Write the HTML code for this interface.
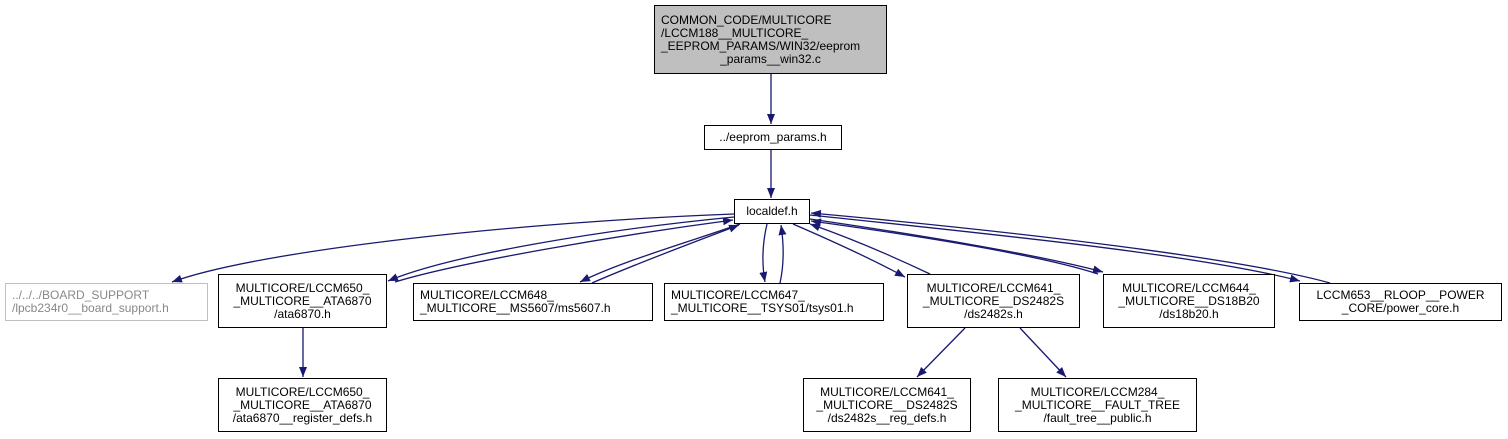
<!DOCTYPE html>
<html><head><meta charset="utf-8"><style>
html,body{margin:0;padding:0;background:#fff;width:1508px;height:439px;overflow:hidden}
.n{position:absolute;box-sizing:border-box;border:1px solid #000;background:#fff;font:12px/13px "Liberation Sans",Arial,sans-serif;color:#000;display:flex;flex-direction:column;justify-content:center;padding:0 6px;white-space:nowrap}
.l{text-align:left}.c{text-align:center}
svg{position:absolute;left:0;top:0}
</style></head><body>
<svg width="1508" height="439">
<defs><marker id="a" viewBox="0 0 10 10" refX="10" refY="5" markerWidth="10" markerHeight="10" markerUnits="userSpaceOnUse" orient="auto"><path d="M0,1 L10,5 L0,9 z" fill="#191970"/></marker></defs>
<g fill="none" stroke="#191970" stroke-width="1.3" marker-end="url(#a)">
<path d="M771,74 L771,124"/>
<path d="M771,150 L771,198"/>
<path d="M734,214 C520,222 260,250 172,282"/>
<path d="M734,217 C600,230 450,255 388,281"/>
<path d="M395,282 C460,262 620,235 733,220"/>
<path d="M740,224 C680,245 620,262 580,282"/>
<path d="M592,283 C640,262 700,240 739,225"/>
<path d="M767,224 C762,245 762,265 765,282"/>
<path d="M780,283 C784,265 784,245 781,225"/>
<path d="M793,224 C830,240 870,258 905,277"/>
<path d="M930,274 C890,255 850,238 810,224"/>
<path d="M810,219 C920,235 1040,255 1103,272"/>
<path d="M1098,274 C1040,255 920,236 811,221"/>
<path d="M810,215 C1000,235 1200,255 1300,281"/>
<path d="M1330,283 C1240,258 1020,232 811,213"/>
<path d="M303,328 L303,377"/>
<path d="M965,328 L917,377"/>
<path d="M1020,328 L1066,377"/>
</g>
</svg>
<div class="n l" style="left:654px;top:5px;width:233px;height:69px;background:#bfbfbf">COMMON_CODE/MULTICORE<br>/LCCM188__MULTICORE_<br>_EEPROM_PARAMS/WIN32/eeprom<br><span style="text-align:center;display:block">_params__win32.c</span></div>
<div class="n c" style="left:704px;top:125px;width:138px;height:25px">../eeprom_params.h</div>
<div class="n c" style="left:734px;top:199px;width:76px;height:25px">localdef.h</div>
<div class="n l" style="left:5px;top:283px;width:203px;height:38px;border-color:#bfbfbf;color:#888">../../../BOARD_SUPPORT<br>/lpcb234r0__board_support.h</div>
<div class="n c" style="left:218px;top:274px;width:169px;height:54px">MULTICORE/LCCM650_<br>_MULTICORE__ATA6870<br>/ata6870.h</div>
<div class="n l" style="left:413px;top:283px;width:240px;height:38px">MULTICORE/LCCM648_<br>_MULTICORE__MS5607/ms5607.h</div>
<div class="n l" style="left:664px;top:283px;width:220px;height:38px">MULTICORE/LCCM647_<br>_MULTICORE__TSYS01/tsys01.h</div>
<div class="n c" style="left:907px;top:274px;width:173px;height:54px">MULTICORE/LCCM641_<br>_MULTICORE__DS2482S<br>/ds2482s.h</div>
<div class="n c" style="left:1103px;top:274px;width:172px;height:54px">MULTICORE/LCCM644_<br>_MULTICORE__DS18B20<br>/ds18b20.h</div>
<div class="n c" style="left:1299px;top:283px;width:203px;height:38px">LCCM653__RLOOP__POWER<br>_CORE/power_core.h</div>
<div class="n c" style="left:218px;top:378px;width:169px;height:54px">MULTICORE/LCCM650_<br>_MULTICORE__ATA6870<br>/ata6870__register_defs.h</div>
<div class="n c" style="left:803px;top:378px;width:168px;height:54px">MULTICORE/LCCM641_<br>_MULTICORE__DS2482S<br>/ds2482s__reg_defs.h</div>
<div class="n c" style="left:998px;top:378px;width:199px;height:54px">MULTICORE/LCCM284_<br>_MULTICORE__FAULT_TREE<br>/fault_tree__public.h</div>
</body></html>
